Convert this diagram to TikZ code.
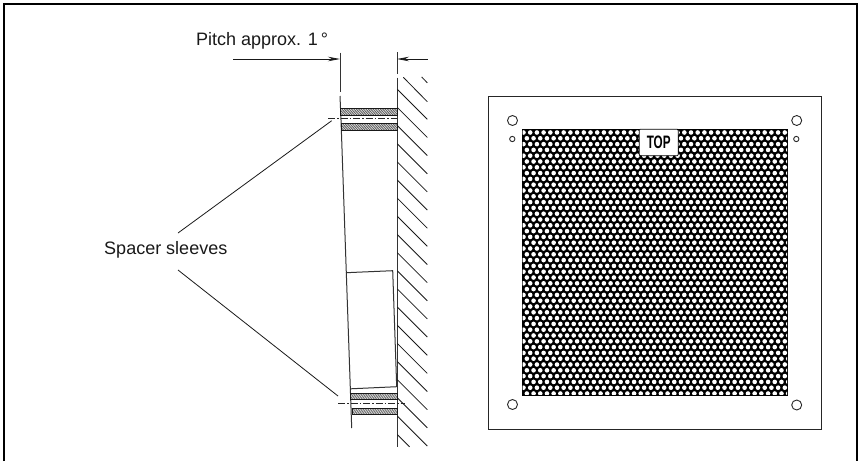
\documentclass[tikz,border=0pt]{standalone}
\usepackage{fontspec}
\usepackage{graphicx}
\setmainfont{Liberation Sans}
\usetikzlibrary{arrows.meta}
\tikzset{x=1pt,y=-1pt,
 thinln/.style={line width=1pt,black!80},
 hatchln/.style={line width=0.8pt,black!90},
 leader/.style={line width=0.8pt,black!90},
 hole/.style={circle,draw=black!85,line width=0.9pt,fill=white,inner sep=0pt},
 lbl/.style={inner sep=0pt,font=\fontsize{18pt}{20pt}\selectfont,text=black!90},
 cl/.style={line width=0.7pt,dash pattern=on 7pt off 2pt on 1.5pt off 2pt,black!85},
 band/.style={draw=black!90,line width=.7pt},
 bandfill/.style={fill=black!72},
 bandhatch/.style={white,line width=.45pt},
}
\newcommand{\sleeveband}[4]{%
 \fill[bandfill] (#1,#2) rectangle (#3,#4);
 \begin{scope}
  \clip (#1,#2) rectangle (#3,#4);
  \foreach \q in {0,2.4,...,72}
    \draw[bandhatch] (#1+\q-10,#4) -- (#1+\q,#2);
 \end{scope}
 \draw[band] (#1,#2) rectangle (#3,#4);
}
\begin{document}
\begin{tikzpicture}
\useasboundingbox (0,0) rectangle (859,461);
\draw[line width=2.2pt] (4,461) -- (4,4) -- (857,4) -- (857,461);
% wall
\draw[thinln] (397.3,77.5) -- (397.3,446.5);
\draw[thinln] (397,52) -- (397,74);
\draw[thinln] (340,52.7) -- (340,91.7);
\draw[thinln] (340,96) -- (341,120) -- (351.7,428);
% sleeve top
\sleeveband{340.5}{108.3}{397.3}{115}
\sleeveband{341.5}{123.3}{397.3}{130}
\draw[cl] (328,118.8) -- (397,118.8);
% sleeve bottom
\sleeveband{350}{393.3}{397.3}{399.3}
\sleeveband{352.3}{408.3}{397.3}{414.2}
\draw[cl] (338,403.3) -- (405,403.3);
% box
\draw[thinln] (346,272.7) -- (392.7,270.7) -- (396.7,386.7) -- (350.7,388.8);
% hatch
\foreach \k in {0,...,18}
  \draw[hatchln] (397.3,89.3+18.15*\k) -- (427.3,119.3+18.15*\k);
\draw[hatchln] (403.3,77.3) -- (427.3,101.7);
\draw[hatchln] (421.7,77) -- (427.3,82.8);
\draw[hatchln] (397.3,434.6) -- (409.5,446.8);
% dimension
\coordinate (dL) at (340,59); \coordinate (dR) at (397,59);
\coordinate (dLo) at (233,59); \coordinate (dRo) at (427.5,59);
\draw[leader,-{Stealth[length=12pt,width=4.5pt]}] (dLo) -- (dL);
\draw[leader,-{Stealth[length=12pt,width=4.5pt]}] (dRo) -- (dR);
% labels
\node[lbl,anchor=base west] (pitch) at (196,45) {Pitch approx. 1\,°};
\node[lbl,anchor=base east] (spacer) at (227.5,254.5) {Spacer sleeves};
% leaders
\coordinate (s1) at (331.7,120.7); \coordinate (s2) at (338,396);
\coordinate (s1a) at (178,233); \coordinate (s2a) at (178,270);
\draw[leader] (s1) -- (s1a);
\draw[leader] (s2a) -- (s2);
% panel
\draw[line width=1pt,black!85] (488,96.3) rectangle (821,429);
\fill[black] (521.5,128.8) rectangle (788,395.8);
\begin{scope}
\clip (522.5,129.8) rectangle (787,394.8);
\foreach \r in {0,...,46}{
 \pgfmathsetmacro{\off}{mod(\r,2)*3.35}
 \foreach \c in {0,...,40}{
  \fill[white] (523.5+\c*6.7+\off,132.5+\r*5.8) circle[radius=2.3pt];
 }
}
\end{scope}
\node[fill=white,draw=black,line width=.8pt,rounded corners=1pt,minimum width=39pt,minimum height=26.5pt,inner sep=0pt] (top) at (658.7,142.4) {\scalebox{.65}[1]{\fontsize{18pt}{20pt}\selectfont\bfseries TOP}};
\node[hole,minimum size=10pt] (h1) at (512.5,120.5) {};
\node[hole,minimum size=10pt] (h2) at (796.7,120.5) {};
\node[hole,minimum size=10pt] (h3) at (512.5,404.5) {};
\node[hole,minimum size=10pt] (h4) at (796.7,405) {};
\node[hole,minimum size=5.3pt] (h5) at (512.3,139) {};
\node[hole,minimum size=5.3pt] (h6) at (796.3,139) {};
\end{tikzpicture}
\end{document}
